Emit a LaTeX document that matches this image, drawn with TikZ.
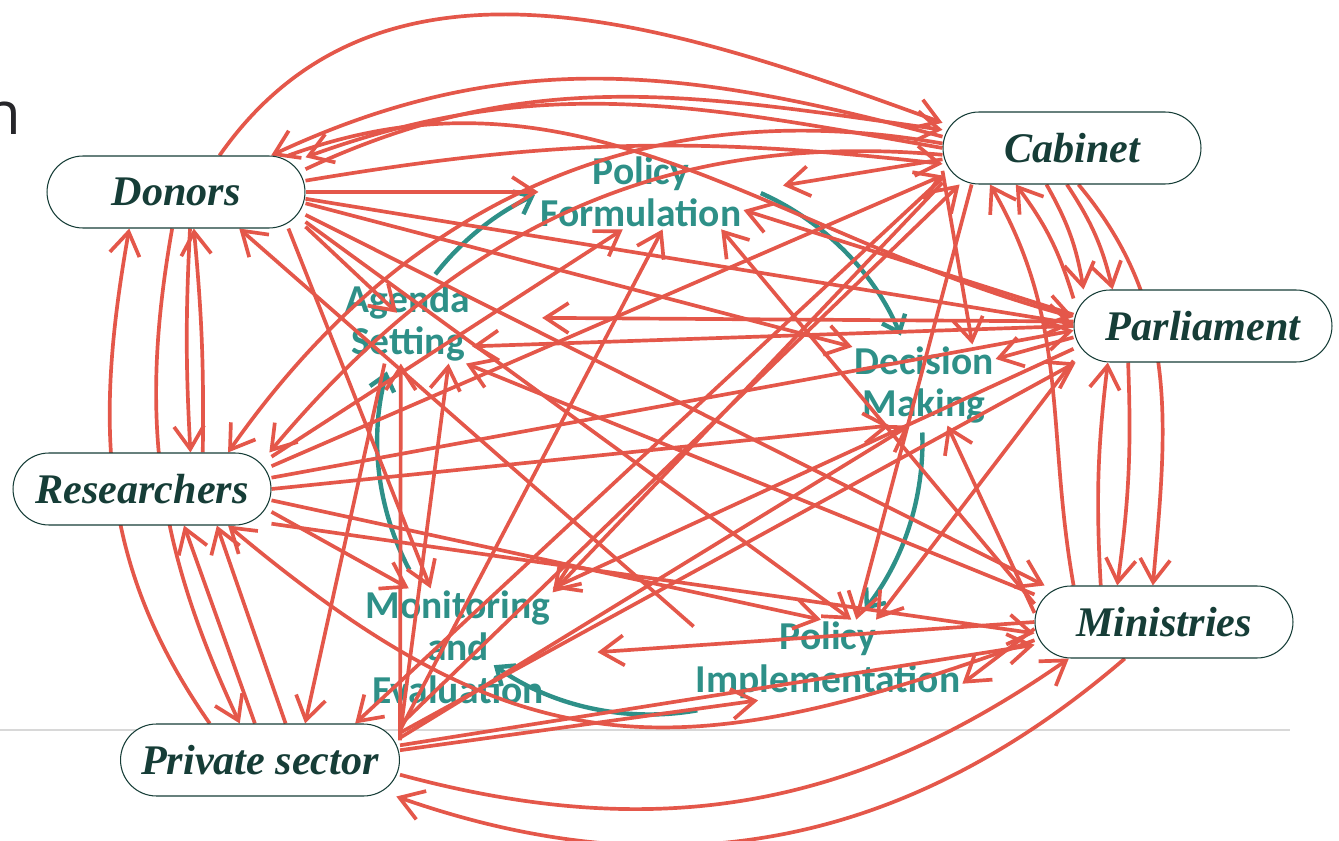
\documentclass[tikz,border=0pt]{standalone}
\usepackage{fontspec}
\usetikzlibrary{arrows.meta,positioning}
\newfontfamily\actorfamily{Liberation Serif}
\newfontfamily\stagefamily{Carlito}[BoldFont={Carlito Bold}]
\newfontfamily\titlefamily{Open Sans}
\definecolor{clink}{RGB}{228,87,74}
\definecolor{cstage}{RGB}{46,144,136}
\definecolor{cactor}{RGB}{22,61,55}
\definecolor{crule}{RGB}{216,216,216}
\definecolor{ctitle}{RGB}{38,38,42}
\pgfdeclarelayer{background}
\pgfsetlayers{background,main}

\begin{document}
\begin{tikzpicture}[x=0.02cm, y=-0.02cm,
    actor/.style={draw=cactor, line width=0.6pt, fill=white, rounded corners=0.72cm,
      minimum width=5.16cm, minimum height=1.44cm, inner sep=0pt, text=cactor,
      font=\actorfamily\bfseries\itshape\fontsize{24}{28}\selectfont},
    stage/.style={text=cstage, align=center, inner sep=1pt,
      font=\stagefamily\bfseries\fontsize{22.5}{24.2}\selectfont},
    link/.style={draw=clink, line width=2.1pt, -{Straight Barb[length=0.46cm,width=0.6cm]}},
    turn/.style={draw=cstage, line width=2.5pt, -{Straight Barb[length=0.3cm,width=0.5cm]}}]
  \useasboundingbox (0,0) rectangle (1339,841);

  % actors
  \node[actor] (donors) at (176,192) {Donors};
  \node[actor] (cabinet) at (1072,148) {Cabinet};
  \node[actor] (parliament) at (1203,326) {Parliament};
  \node[actor] (researchers) at (142,489) {Researchers};
  \node[actor] (ministries) at (1164,622) {Ministries};
  \node[actor, minimum width=5.58cm] (private) at (260,760) {Private sector};

  \node[anchor=base east, inner sep=0pt, text=ctitle,
        font=\titlefamily\fontsize{34}{36}\selectfont] (heading) at (22,135) {n};

  \begin{pgfonlayer}{background}
    \draw[crule, line width=1pt] (0,730) -- (1290,730);

    % policy cycle
    \node[stage] (formulation) at (641,192) {Policy\\Formulation};
    \node[stage] (agenda) at (408,323) {Agenda\\Setting};
    \node[stage] (decision) at (924,385) {Decision\\Making};
    \node[stage] (implementation) at (828,660) {Policy\\Implementation};
    \node[stage] (monitoring) at (458,647) {Monitoring\\and\\Evaluation};

    \coordinate (hub) at (650,442);
    \draw[turn] ([shift={(142:5.45cm)}]hub) arc[start angle=142, end angle=115, radius=5.45cm];
    \draw[turn] ([shift={(66:5.45cm)}]hub) arc[start angle=66, end angle=23, radius=5.45cm];
    \draw[turn] ([shift={(2:5.45cm)}]hub) arc[start angle=2, end angle=-38, radius=5.45cm];
    \draw[turn] ([shift={(-80:5.45cm)}]hub) arc[start angle=-80, end angle=-125, radius=5.45cm];
    \draw[turn] ([shift={(208:5.45cm)}]hub) arc[start angle=208, end angle=165, radius=5.45cm];

    % over the top
    \draw[link] (donors.40) to[out=55,in=160] (cabinet.169);
    \draw[link] (cabinet.175) to[out=165,in=25] (donors.21);
    \draw[link] (cabinet.180) to[out=170,in=20] (donors.15);
    \draw[link] (donors.10) to[out=25,in=172] (cabinet.172);
    \draw[link] (donors.5) to[bend left=8] (cabinet.187);
    \draw[link] (donors.18) to[out=20,in=165] (parliament.176);
    \draw[link] (cabinet.178) to[out=170,in=55] (researchers.23);
    \draw[link] (cabinet.183) to[out=175,in=50] (researchers.16);

    % donors
    \draw[link] (donors.east) -- (formulation.west);
    \draw[link] (donors.-3) -- (parliament.179);
    \draw[link] (donors.-5) -- (decision.152);
    \draw[link] (donors.-10) -- (ministries.163);
    \draw[link] (donors.-13) -- (implementation.60);
    \draw[link] (donors.-18) -- (monitoring.115);
    \draw[link, shorten >=0.3cm] (donors.-15) -- (agenda.center);
    \draw[link] (implementation.166) -- (donors.-30);
    \draw[link] (donors.-69) to[bend right=3] (researchers.37);
    \draw[link] (researchers.31) to[bend right=3] (donors.-64);

    % researchers
    \draw[link] (researchers.east) -- (decision.-130);
    \draw[link] (researchers.5) -- (parliament.182);
    \draw[link] (researchers.10) -- (cabinet.192);
    \draw[link] (researchers.14) -- (formulation.-116);
    \draw[link] (researchers.-5) -- (implementation.100);
    \draw[link] (researchers.-10) -- (monitoring.130);
    \draw[link] (researchers.-15) -- (ministries.185);

    % private sector
    \draw[link] (private.4) -- (implementation.-150);
    \draw[link] (private.6) -- (ministries.190);
    \draw[link] (private.8) -- (agenda.-100);
    \draw[link] (private.9) -- (decision.-110);
    \draw[link] (private.10) -- (agenda.-45);
    \draw[link] (private.11) -- (parliament.196);
    \draw[link] (private.12) -- (formulation.-60);
    \draw[link] (private.14) -- (cabinet.198);
    \draw[link] (private.98) -- (researchers.-41);
    \draw[link] (private.55) -- (researchers.-26);
    \draw[link] (private.-6) to[bend right=25] (ministries.201);
    \draw[link] (ministries.223) to[bend left=30] (private.-15);
    \draw[link] (private.144) to[out=125,in=260] (donors.218);
    \draw[link] (donors.-96) to[out=-100,in=115] (private.119);
    \draw[link] (agenda.-120) -- (private.39);

    % cabinet
    \draw[link, shorten >=0.8cm] (cabinet.185) -- (formulation.east);
    \draw[link] (cabinet.190) -- (decision.40);
    \draw[link] (cabinet.193) -- (private.21);
    \draw[link] (cabinet.195) -- (monitoring.30);
    \draw[link] (cabinet.200) -- (implementation.55);
    \draw[link] (cabinet.235) to[bend left=10] (parliament.163);
    \draw[link] (cabinet.262) to[bend left=10] (parliament.158);
    \draw[link] (cabinet.-80) to[out=-50,in=85] (ministries.107);

    % parliament
    \draw[link] (parliament.168) to[bend right=10] (cabinet.213);
    \draw[link] (parliament.206) to[bend left=5] (ministries.142);
    \draw[link] (ministries.150) to[bend left=5] (parliament.201);
    \draw[link] (ministries.158) to[out=100,in=-60] (cabinet.204);
    \draw[link] (parliament.175) -- (formulation.-10);
    \draw[link] (parliament.180) -- (agenda.-20);
    \draw[link, shorten >=1.4cm] (parliament.178) -- (agenda.5);
    \draw[link] (parliament.185) -- (decision.20);
    \draw[link] (parliament.190) -- (monitoring.north east);
    \draw[link] (parliament.195) -- (implementation.40);

    % ministries
    \draw[link, shorten >=0.9cm] (ministries.180) -- (monitoring.-5);
    \draw[link] (ministries.183) -- (implementation.-10);
    \draw[link] (ministries.176) -- (decision.-60);
    \draw[link] (ministries.172) -- (formulation.-25);
    \draw[link] (ministries.168) -- (agenda.-35);
    \draw[link] (ministries.188) to[out=-160,in=-40,looseness=1.2] (researchers.-23);
  \end{pgfonlayer}
\end{tikzpicture}
\end{document}
